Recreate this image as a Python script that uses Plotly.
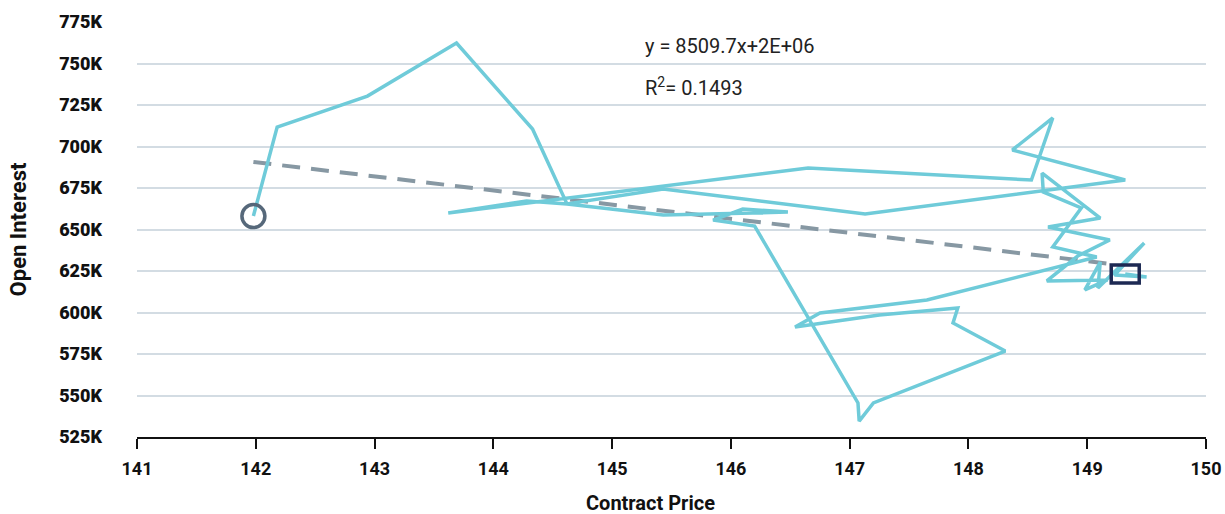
import plotly.graph_objects as go

# Contract price (x) and open interest in thousands (y), in time order
price = [141.98, 142.18, 142.94, 143.69, 144.33, 144.62, 145.43, 147.13, 149.32, 148.37,
         148.71, 148.53, 146.65, 143.62, 144.28, 144.62, 145.43, 146.48, 146.10, 145.85,
         146.20, 147.07, 147.08, 147.20, 148.31, 147.87, 147.91, 147.25, 146.54, 146.75,
         147.65, 149.08, 148.71, 148.95, 148.63, 148.62, 149.11, 148.67, 149.19, 148.92,
         148.66, 149.17, 148.98, 149.11, 149.09, 149.48, 149.23, 149.50, 149.32]
open_interest = [658.1, 711.7, 730.4, 762.3, 710.5, 665.4, 674.4, 659.3, 679.8, 697.9,
                 717.2, 679.8, 687.0, 659.9, 667.2, 665.4, 658.7, 660.5, 662.3, 655.7,
                 652.1, 545.5, 534.6, 545.5, 576.8, 593.7, 602.7, 598.5, 591.3, 599.7,
                 607.5, 633.4, 639.5, 663.0, 672.6, 684.0, 656.9, 651.5, 643.7, 634.0,
                 619.0, 619.6, 613.6, 630.4, 614.8, 641.9, 622.6, 621.4, 623.2]

# Linear trend line end points
trend_x = [141.98, 149.25]
trend_y = [690.7, 628.8]

y_ticks = [525, 550, 575, 600, 625, 650, 675, 700, 725, 750, 775]
y_labels = [f"{v}K" for v in y_ticks]
x_ticks = [141, 142, 143, 144, 145, 146, 147, 148, 149, 150]

x_title = "Contract Price"
y_title = "Open Interest"
equation_text = "y = 8509.7x+2E+06"
r2_text = "R<sup>2</sup>= 0.1493"

fig = go.Figure()

fig.add_trace(go.Scatter(
    x=trend_x, y=trend_y, mode="lines",
    line=dict(color="#8798a3", width=4, dash="18px,11px"),
    hoverinfo="skip", showlegend=False))

fig.add_trace(go.Scatter(
    x=price, y=open_interest, mode="lines",
    line=dict(color="#6fcbd9", width=3.5),
    showlegend=False))

# start marker
fig.add_trace(go.Scatter(
    x=[price[0]], y=[open_interest[0]], mode="markers",
    marker=dict(symbol="circle-open", size=23, color="#56687a",
                line=dict(color="#56687a", width=3.5)),
    showlegend=False))

# end marker (rectangle)
fig.add_shape(type="rect", xref="x", yref="y",
              xsizemode="pixel", ysizemode="pixel",
              xanchor=price[-1], yanchor=open_interest[-1],
              x0=-14, x1=14, y0=-9, y1=9,
              line=dict(color="#1d2953", width=3.5), fillcolor="rgba(0,0,0,0)")

fig.add_annotation(x=0.4733, y=0.942, xref="paper", yref="paper", text=equation_text,
                   showarrow=False, xanchor="left", yanchor="middle",
                   font=dict(family="Roboto", size=20, color="#222222"))
fig.add_annotation(x=0.4733, y=0.843, xref="paper", yref="paper", text=r2_text,
                   showarrow=False, xanchor="left", yanchor="middle",
                   font=dict(family="Roboto", size=20, color="#222222"))

# x-axis title (placed slightly left of centre, as in the original)
fig.add_annotation(x=0.48, y=-0.159, xref="paper", yref="paper", text=x_title,
                   showarrow=False, xanchor="center", yanchor="middle",
                   font=dict(family="Roboto", size=20, color="#111111", weight="bold"))

fig.update_layout(
    width=1225, height=514,
    margin=dict(l=137, r=19, t=22, b=77),
    plot_bgcolor="white", paper_bgcolor="white",
    xaxis=dict(range=[141, 150], tickvals=x_ticks, showgrid=False, zeroline=False,
               automargin=False, ticklabeloverflow="allow",
               showline=True, linecolor="#111111", linewidth=2,
               ticks="outside", ticklen=10, tickwidth=2, tickcolor="#111111",
               ticklabelstandoff=4,
               tickfont=dict(family="Roboto", size=18, color="#111111", weight="bold")),
    yaxis=dict(range=[525, 775], tickvals=y_ticks, ticktext=y_labels,
               automargin=False, ticklabeloverflow="allow",
               showgrid=True, gridcolor="#d3dce3", gridwidth=1.5, zeroline=False,
               showline=False, ticks="", ticklabelstandoff=34,
               tickfont=dict(family="Roboto", size=18, color="#111111", weight=900),
               title=dict(text=y_title, standoff=26,
                          font=dict(family="Roboto", size=22, color="#111111", weight="bold"))),
)

fig.write_html("out.html", config={"displayModeBar": False},
               post_script="document.body.style.margin='0';document.body.style.overflow='hidden';")
